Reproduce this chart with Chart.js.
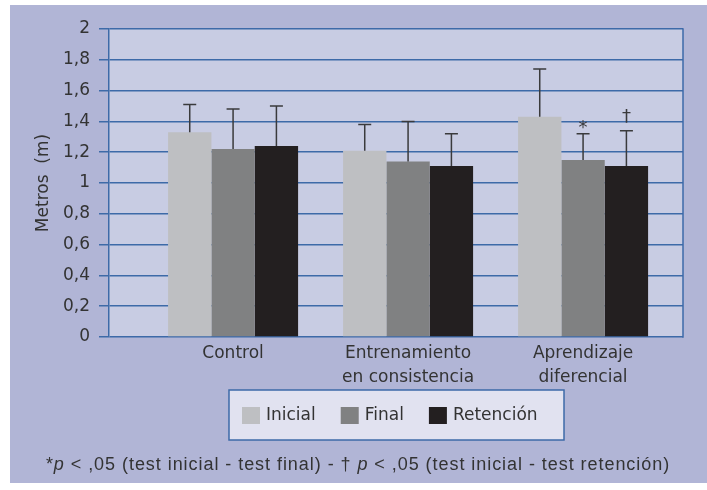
<!DOCTYPE html>
<html>
<head>
<meta charset="utf-8">
<script src="https://cdn.jsdelivr.net/npm/chart.js@4.4.1/dist/chart.umd.min.js"></script>
<style>
  html, body { margin: 0; padding: 0; background: #ffffff; }
  #wrap { width: 707px; height: 490px; position: relative; }
</style>
</head>
<body>
<div id="wrap"><canvas id="c" width="707" height="490"></canvas></div>
<script>
// Groups and series
const groups = [['Control'], ['Entrenamiento', 'en consistencia'], ['Aprendizaje', 'diferencial']];
const seriesNames = ['Inicial', 'Final', 'Retención'];

// Means (m) and standard deviations per group
const inicial = [1.33, 1.21, 1.43];
const inicialSD = [0.18, 0.17, 0.31];
const finalValues = [1.22, 1.14, 1.15];
const finalSD = [0.26, 0.26, 0.17];
const retencion = [1.24, 1.11, 1.11];
const retencionSD = [0.26, 0.21, 0.23];

// Significance marks drawn above the error bars
const inicialMarks = ['', '', ''];
const finalMarks = ['', '', '*'];
const retencionMarks = ['', '', '†'];

// Y axis ticks
const yTicks = [0, 0.2, 0.4, 0.6, 0.8, 1, 1.2, 1.4, 1.6, 1.8, 2];

const COLORS = ['#bebfc2', '#808182', '#231f20'];
const GRID = '#3d6aa8';
const PANEL = '#b1b5d6';
const PLOT_BG = '#c8cce3';
const TEXT = '#333333';
const FONT = 'DejaVu Sans';

const toPoints = arr => arr.map((v, i) => ({ x: i, y: v }));

const datasets = [
  { label: seriesNames[0], data: toPoints(inicial), sd: inicialSD, marks: inicialMarks, backgroundColor: COLORS[0] },
  { label: seriesNames[1], data: toPoints(finalValues), sd: finalSD, marks: finalMarks, backgroundColor: COLORS[1] },
  { label: seriesNames[2], data: toPoints(retencion), sd: retencionSD, marks: retencionMarks, backgroundColor: COLORS[2] }
];

// Panel and plot background, right frame line
const backdrop = {
  id: 'backdrop',
  beforeDraw(chart) {
    const { ctx, chartArea: a } = chart;
    ctx.save();
    ctx.fillStyle = '#ffffff';
    ctx.fillRect(0, 0, chart.width, chart.height);
    ctx.fillStyle = PANEL;
    ctx.fillRect(10, 5, chart.width - 10, 478);
    ctx.fillStyle = PLOT_BG;
    ctx.fillRect(a.left, a.top, a.right - a.left, a.bottom - a.top);
    ctx.restore();
  },
  beforeDatasetsDraw(chart) {
    const { ctx, chartArea: a } = chart;
    ctx.save();
    ctx.strokeStyle = GRID;
    ctx.lineWidth = 1.5;
    ctx.beginPath();
    ctx.moveTo(a.right, a.top - 0.75);
    ctx.lineTo(a.right, a.bottom + 0.75);
    ctx.stroke();
    ctx.restore();
  }
};

// Upper error bars (mean + SD) and significance marks
const errorBars = {
  id: 'errorBars',
  afterDatasetsDraw(chart) {
    const { ctx } = chart;
    const y = chart.scales.y;
    ctx.save();
    chart.data.datasets.forEach((ds, di) => {
      const meta = chart.getDatasetMeta(di);
      meta.data.forEach((bar, i) => {
        const v = ds.data[i].y;
        const top = y.getPixelForValue(v + ds.sd[i]);
        ctx.strokeStyle = '#3a3a3c';
        ctx.lineWidth = 1.5;
        ctx.beginPath();
        ctx.moveTo(bar.x, bar.y);
        ctx.lineTo(bar.x, top);
        ctx.moveTo(bar.x - 6.5, top);
        ctx.lineTo(bar.x + 6.5, top);
        ctx.stroke();
        const mark = ds.marks[i];
        if (mark) {
          ctx.fillStyle = '#3a3a3c';
          ctx.textAlign = 'center';
          ctx.textBaseline = 'middle';
          ctx.font = '18px "' + FONT + '"';
          ctx.fillText(mark, bar.x, top - (mark === '*' ? 5 : 13));
        }
      });
    });
    ctx.restore();
  }
};

// Boxed legend below the axis, and the footnote
const legendBox = {
  id: 'legendBox',
  afterDraw(chart) {
    const { ctx } = chart;
    ctx.save();
    ctx.fillStyle = '#e1e2f0';
    ctx.fillRect(229, 390, 335, 50);
    ctx.strokeStyle = GRID;
    ctx.lineWidth = 1.5;
    ctx.strokeRect(229, 390, 335, 50);

    ctx.font = '17px "' + FONT + '"';
    ctx.textBaseline = 'middle';
    ctx.textAlign = 'left';
    let x = 242;
    chart.data.datasets.forEach(ds => {
      ctx.fillStyle = ds.backgroundColor;
      ctx.fillRect(x, 407, 18, 17);
      ctx.fillStyle = TEXT;
      ctx.fillText(ds.label, x + 24, 416);
      x += 24 + ctx.measureText(ds.label).width + 25;
    });

    // footnote with italic p
    const parts = [
      ['*', false], ['p', true], [' < ,05 (test inicial - test final) - † ', false],
      ['p', true], [' < ,05 (test inicial - test retención)', false]
    ];
    const fam = '"Liberation Sans", Arial, sans-serif';
    const fontOf = it => (it ? 'italic ' : '') + '18px ' + fam;
    ctx.letterSpacing = '0.95px';
    let total = 0;
    parts.forEach(([t, it]) => { ctx.font = fontOf(it); total += ctx.measureText(t).width; });
    let fx = 358 - total / 2;
    ctx.fillStyle = TEXT;
    ctx.textBaseline = 'alphabetic';
    parts.forEach(([t, it]) => {
      ctx.font = fontOf(it);
      ctx.fillText(t, fx, 470);
      fx += ctx.measureText(t).width;
    });
    ctx.restore();
  }
};

new Chart(document.getElementById('c'), {
  type: 'bar',
  data: { datasets },
  options: {
    responsive: false,
    animation: false,
    devicePixelRatio: 1,
    layout: { padding: { left: 0, top: 29, right: 24, bottom: 93 } },
    datasets: { bar: { categoryPercentage: 0.743, barPercentage: 1, borderWidth: 0 } },
    plugins: { legend: { display: false }, tooltip: { enabled: false } },
    scales: {
      x: {
        type: 'linear',
        min: -0.709,
        max: 2.571,
        offset: false,
        grid: { display: false },
        border: { display: false },
        afterBuildTicks: s => { s.ticks = groups.map((g, i) => ({ value: i })); },
        afterFit: s => { s.height = 60; },
        ticks: {
          autoSkip: false,
          maxRotation: 0,
          padding: -3,
          color: TEXT,
          font: { family: FONT, size: 17, lineHeight: 1.41 },
          callback: v => groups[v]
        }
      },
      y: {
        min: 0,
        max: 2,
        afterBuildTicks: s => { s.ticks = yTicks.map(v => ({ value: v })); },
        afterFit: s => { s.width = 109; },
        grid: { color: GRID, lineWidth: 1.5, tickLength: 10, drawTicks: true },
        border: { color: GRID, width: 1.5 },
        ticks: {
          padding: 9,
          color: TEXT,
          font: { family: FONT, size: 17 },
          callback: v => String(v).replace('.', ',')
        },
        title: {
          display: true,
          text: 'Metros  (m)',
          color: TEXT,
          font: { family: FONT, size: 17 },
          padding: { top: 33, bottom: 0 }
        }
      }
    }
  },
  plugins: [backdrop, errorBars, legendBox]
});
</script>
</body>
</html>
